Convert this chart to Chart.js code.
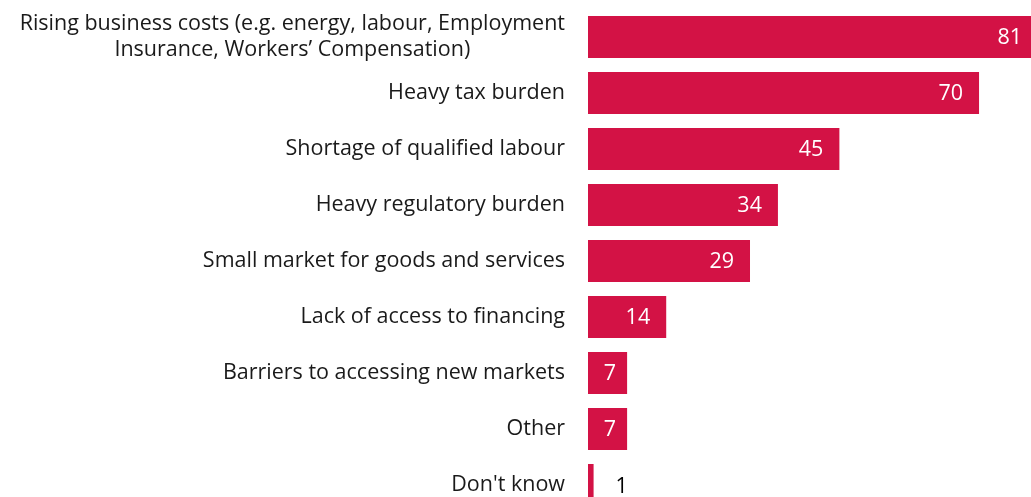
<!DOCTYPE html>
<html>
<head>
<meta charset="utf-8">
<script src="https://cdn.jsdelivr.net/npm/chart.js@4.4.1/dist/chart.umd.min.js"></script>
<style>
  html, body { margin: 0; padding: 0; background: #fff; overflow: hidden; }
  #wrap { width: 1031px; height: 513px; }
</style>
</head>
<body>
<div id="wrap"><canvas id="c" width="1031" height="513"></canvas></div>
<script>
const categories = [
  ["Rising business costs (e.g. energy, labour, Employment", "Insurance, Workers\u2019 Compensation)"],
  "Heavy tax burden",
  "Shortage of qualified labour",
  "Heavy regulatory burden",
  "Small market for goods and services",
  "Lack of access to financing",
  "Barriers to accessing new markets",
  "Other",
  "Don't know"
];
const values = [81, 70, 45, 34, 29, 14, 7, 7, 1];

const FONT = '"Open Sans", "Noto Sans", sans-serif';
const BAR = '#D31245';

const labelPlugin = {
  id: 'customLabels',
  afterDatasetsDraw(chart) {
    const ctx = chart.ctx;
    const yScale = chart.scales.y;
    const meta = chart.getDatasetMeta(0);
    const area = chart.chartArea;
    ctx.save();
    ctx.font = '21.5px ' + FONT;
    ctx.textBaseline = 'middle';
    categories.forEach((lab, i) => {
      const y = yScale.getPixelForValue(i);
      const lines = Array.isArray(lab) ? lab : [lab];
      const lh = 26;
      const widths = lines.map(l => ctx.measureText(l).width);
      const maxW = Math.max(...widths);
      const right = area.left - 23;
      ctx.fillStyle = '#1a1a1a';
      ctx.textAlign = 'center';
      lines.forEach((l, k) => {
        const ly = y + (k - (lines.length - 1) / 2) * lh;
        ctx.fillText(l, right - maxW / 2, ly);
      });
    });
    ctx.font = '21.5px ' + FONT;
    meta.data.forEach((bar, i) => {
      const txt = String(values[i]);
      const w = ctx.measureText(txt).width;
      const bw = bar.x - bar.base;
      ctx.textAlign = 'left';
      if (bw < 20) {
        ctx.fillStyle = '#000';
        ctx.fillText(txt, bar.x + 22, bar.y + 2);
      } else if (bw < 45) {
        ctx.fillStyle = '#fff';
        ctx.fillText(txt, bar.x - 11 - w, bar.y + 1);
      } else {
        ctx.fillStyle = '#fff';
        ctx.fillText(txt, Math.min(bar.x - 16, area.right - 9) - w, bar.y + 1);
      }
    });
    ctx.restore();
  }
};

new Chart(document.getElementById('c'), {
  type: 'bar',
  data: {
    labels: categories,
    datasets: [{
      data: values,
      backgroundColor: BAR,
      borderWidth: 0,
      barPercentage: 0.75,
      categoryPercentage: 1.0
    }]
  },
  options: {
    indexAxis: 'y',
    responsive: false,
    animation: false,
    devicePixelRatio: 1,
    layout: { padding: { left: 588, right: 0, top: 9, bottom: 0 } },
    plugins: { legend: { display: false }, tooltip: { enabled: false } },
    scales: {
      x: { display: false, min: 0, max: 79.3 },
      y: { display: false }
    }
  },
  plugins: [labelPlugin]
});
</script>
</body>
</html>
